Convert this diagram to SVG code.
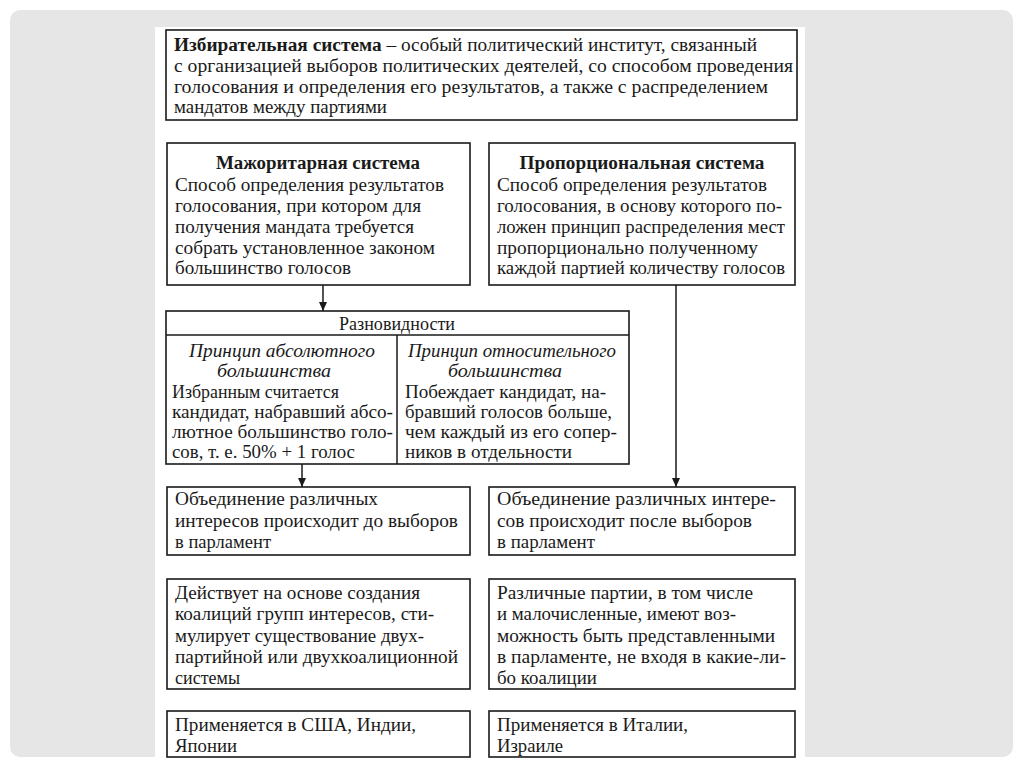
<svg xmlns="http://www.w3.org/2000/svg" width="1024" height="767" viewBox="0 0 1024 767">
<defs>
<marker id="arr" markerWidth="10" markerHeight="10" refX="9" refY="5" orient="auto" markerUnits="userSpaceOnUse">
<path d="M0,1 L9,5 L0,9 z" fill="#1a1a1a"/>
</marker>
<style>
.box{fill:#fff;stroke:#1a1a1a;stroke-width:1.6}
.t{font-family:"Liberation Serif","DejaVu Serif",serif;font-size:18px;fill:#1a1a1a}
.b{font-weight:bold}
.i{font-style:italic}
.c{text-anchor:middle}
.ln{stroke:#1a1a1a;stroke-width:1.5;fill:none}
</style>
</defs>
<rect x="0" y="0" width="1024" height="767" fill="#ffffff"/>
<rect x="10" y="10" width="1003" height="747" rx="10" fill="#e6e6e6"/>
<rect x="155" y="27" width="650" height="730" fill="#ffffff"/>

<g id="node-definition">
<rect class="box" x="166" y="30" width="631" height="90"/>
<text class="t" x="174" y="51" textLength="583" lengthAdjust="spacingAndGlyphs"><tspan class="b">Избирательная система</tspan> – особый политический институт, связанный</text>
<text class="t" x="174" y="72" textLength="619" lengthAdjust="spacingAndGlyphs">с организацией выборов политических деятелей, со способом проведения</text>
<text class="t" x="174" y="93" textLength="594" lengthAdjust="spacingAndGlyphs">голосования и определения его результатов, а также с распределением</text>
<text class="t" x="174" y="113" textLength="213" lengthAdjust="spacingAndGlyphs">мандатов между партиями</text>
</g>

<g id="node-majoritarian">
<rect class="box" x="167" y="143" width="303" height="142"/>
<text class="t b c" x="318" y="169" textLength="204" lengthAdjust="spacingAndGlyphs">Мажоритарная система</text>
<text class="t" x="175" y="191" textLength="269" lengthAdjust="spacingAndGlyphs">Способ определения результатов</text>
<text class="t" x="175" y="212" textLength="246" lengthAdjust="spacingAndGlyphs">голосования, при котором для</text>
<text class="t" x="175" y="233" textLength="239" lengthAdjust="spacingAndGlyphs">получения мандата требуется</text>
<text class="t" x="175" y="254" textLength="260" lengthAdjust="spacingAndGlyphs">собрать установленное законом</text>
<text class="t" x="175" y="274" textLength="176" lengthAdjust="spacingAndGlyphs">большинство голосов</text>
</g>

<g id="node-proportional">
<rect class="box" x="489" y="143" width="306" height="142"/>
<text class="t b c" x="642" y="169" textLength="245" lengthAdjust="spacingAndGlyphs">Пропорциональная система</text>
<text class="t" x="497" y="191" textLength="270" lengthAdjust="spacingAndGlyphs">Способ определения результатов</text>
<text class="t" x="497" y="212" textLength="285" lengthAdjust="spacingAndGlyphs">голосования, в основу которого по-</text>
<text class="t" x="497" y="233" textLength="288" lengthAdjust="spacingAndGlyphs">ложен принцип распределения мест</text>
<text class="t" x="497" y="254" textLength="261" lengthAdjust="spacingAndGlyphs">пропорционально полученному</text>
<text class="t" x="497" y="274" textLength="288" lengthAdjust="spacingAndGlyphs">каждой партией количеству голосов</text>
</g>

<g id="node-varieties">
<rect class="box" x="166" y="311" width="463" height="153"/>
<line class="ln" x1="166" y1="335" x2="629" y2="335"/>
<line class="ln" x1="397" y1="335" x2="397" y2="464"/>
<text class="t c" x="397" y="330" textLength="116" lengthAdjust="spacingAndGlyphs">Разновидности</text>
<text class="t i c" x="282" y="357" textLength="186" lengthAdjust="spacingAndGlyphs">Принцип абсолютного</text>
<text class="t i c" x="274" y="377" textLength="114" lengthAdjust="spacingAndGlyphs">большинства</text>
<text class="t" x="172" y="398" textLength="167" lengthAdjust="spacingAndGlyphs">Избранным считается</text>
<text class="t" x="172" y="418" textLength="221" lengthAdjust="spacingAndGlyphs">кандидат, набравший абсо-</text>
<text class="t" x="172" y="438" textLength="221" lengthAdjust="spacingAndGlyphs">лютное большинство голо-</text>
<text class="t" x="172" y="458" textLength="183" lengthAdjust="spacingAndGlyphs">сов, т. е. 50% + 1 голос</text>
<text class="t i c" x="512" y="357" textLength="208" lengthAdjust="spacingAndGlyphs">Принцип относительного</text>
<text class="t i c" x="505" y="377" textLength="114" lengthAdjust="spacingAndGlyphs">большинства</text>
<text class="t" x="405" y="398" textLength="201" lengthAdjust="spacingAndGlyphs">Побеждает кандидат, на-</text>
<text class="t" x="405" y="418" textLength="207" lengthAdjust="spacingAndGlyphs">бравший голосов больше,</text>
<text class="t" x="405" y="438" textLength="212" lengthAdjust="spacingAndGlyphs">чем каждый из его сопер-</text>
<text class="t" x="405" y="458" textLength="167" lengthAdjust="spacingAndGlyphs">ников в отдельности</text>
</g>

<g id="node-maj-union">
<rect class="box" x="167" y="487" width="303" height="68"/>
<text class="t" x="175" y="505" textLength="203" lengthAdjust="spacingAndGlyphs">Объединение различных</text>
<text class="t" x="175" y="527" textLength="283" lengthAdjust="spacingAndGlyphs">интересов происходит до выборов</text>
<text class="t" x="175" y="548" textLength="96" lengthAdjust="spacingAndGlyphs">в парламент</text>
</g>

<g id="node-prop-union">
<rect class="box" x="489" y="487" width="306" height="68"/>
<text class="t" x="497" y="505" textLength="279" lengthAdjust="spacingAndGlyphs">Объединение различных интере-</text>
<text class="t" x="497" y="527" textLength="255" lengthAdjust="spacingAndGlyphs">сов происходит после выборов</text>
<text class="t" x="497" y="548" textLength="98" lengthAdjust="spacingAndGlyphs">в парламент</text>
</g>

<g id="node-maj-coalition">
<rect class="box" x="167" y="579" width="303" height="110"/>
<text class="t" x="175" y="599" textLength="245" lengthAdjust="spacingAndGlyphs">Действует на основе создания</text>
<text class="t" x="175" y="620" textLength="259" lengthAdjust="spacingAndGlyphs">коалиций групп интересов, сти-</text>
<text class="t" x="175" y="642" textLength="249" lengthAdjust="spacingAndGlyphs">мулирует существование двух-</text>
<text class="t" x="175" y="663" textLength="283" lengthAdjust="spacingAndGlyphs">партийной или двухкоалиционной</text>
<text class="t" x="175" y="684" textLength="65" lengthAdjust="spacingAndGlyphs">системы</text>
</g>

<g id="node-prop-parties">
<rect class="box" x="489" y="579" width="306" height="110"/>
<text class="t" x="497" y="599" textLength="256" lengthAdjust="spacingAndGlyphs">Различные партии, в том числе</text>
<text class="t" x="497" y="620" textLength="239" lengthAdjust="spacingAndGlyphs">и малочисленные, имеют воз-</text>
<text class="t" x="497" y="642" textLength="278" lengthAdjust="spacingAndGlyphs">можность быть представленными</text>
<text class="t" x="497" y="663" textLength="289" lengthAdjust="spacingAndGlyphs">в парламенте, не входя в какие-ли-</text>
<text class="t" x="497" y="684" textLength="100" lengthAdjust="spacingAndGlyphs">бо коалиции</text>
</g>

<g id="node-maj-countries">
<rect class="box" x="167" y="711" width="303" height="46"/>
<text class="t" x="175" y="731" textLength="241" lengthAdjust="spacingAndGlyphs">Применяется в США, Индии,</text>
<text class="t" x="175" y="752" textLength="62" lengthAdjust="spacingAndGlyphs">Японии</text>
</g>

<g id="node-prop-countries">
<rect class="box" x="489" y="711" width="306" height="46"/>
<text class="t" x="497" y="731" textLength="191" lengthAdjust="spacingAndGlyphs">Применяется в Италии,</text>
<text class="t" x="497" y="752" textLength="66" lengthAdjust="spacingAndGlyphs">Израиле</text>
</g>

<g id="connectors">
<line class="ln" x1="323" y1="285" x2="323" y2="311" marker-end="url(#arr)"/>
<line class="ln" x1="302" y1="464" x2="302" y2="487" marker-end="url(#arr)"/>
<line class="ln" x1="676" y1="285" x2="676" y2="487" marker-end="url(#arr)"/>
</g>
</svg>
